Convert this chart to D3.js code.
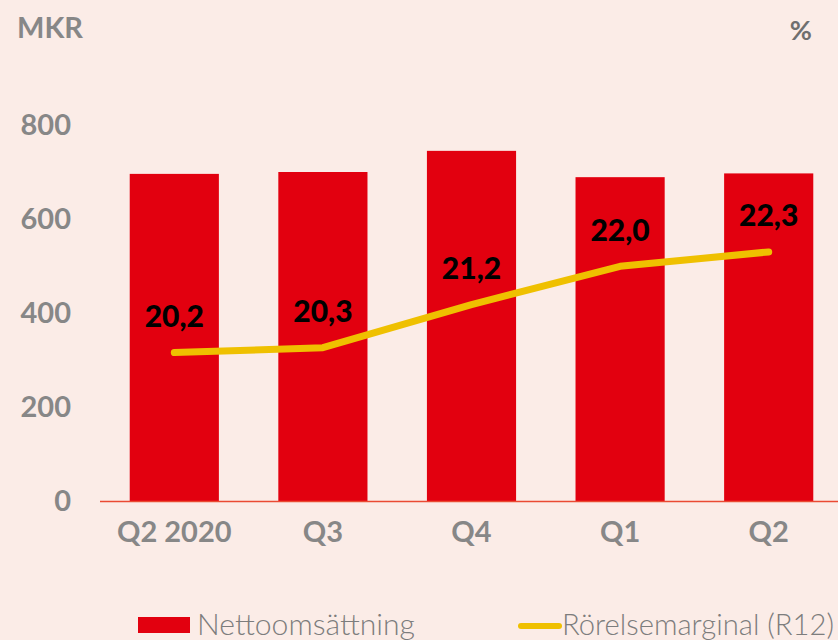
<!DOCTYPE html>
<html>
<head>
<meta charset="utf-8">
<script src="https://cdn.jsdelivr.net/npm/d3@7/dist/d3.min.js"></script>
<style>
	html, body { margin: 0; padding: 0; background: #fbece7; }
	svg { display: block; }
	.tick-lbl { font-family: Lato, sans-serif; font-weight: 700; fill: #878787; }
</style>
</head>
<body>
<svg id="chart" width="838" height="640"></svg>
<script>
	// Chart data
var quarters = ["Q2 2020", "Q3", "Q4", "Q1", "Q2"];
var netSales = [696, 700, 745, 689, 697];		// MKR
var margin   = [20.2, 20.3, 21.2, 22.0, 22.3];	// %, R12
var yTicks   = [0, 200, 400, 600, 800];

var W = 838, H = 640;
var base = 501, top_ = 125;

var svg = d3.select("#chart");

var x = d3.scaleBand().domain(quarters).range([100, 843])
	.paddingInner(0.4).paddingOuter(0.2);
var y = d3.scaleLinear().domain([0, 800]).range([base, top_]);
	// Right-hand % scale (no labels drawn, only the unit)
var y2 = d3.scaleLinear().domain([17.1, 24.95]).range([base, top_]);

	// Left axis labels
svg.append("g").selectAll("text")
	.data(yTicks)
	.enter()
	.append("text")
	.attr("class", "tick-lbl")
	.attr("x", 71)
	.attr("y", function(d) { return y(d); })
	.attr("dy", "0.35em")
	.attr("text-anchor", "end")
	.style("font-size", "29px")
	.text(function(d) { return d; });

svg.append("text").attr("class", "tick-lbl")
	.attr("x", 17).attr("y", 38).style("font-size", "29px").text("MKR");
svg.append("text").attr("class", "tick-lbl")
	.attr("x", 812).attr("y", 40).attr("text-anchor", "end")
	.style("font-size", "27px").style("fill", "#6f6f6f").text("%");

	// Bars
svg.append("g").selectAll("rect")
	.data(quarters)
	.enter()
	.append("rect")
	.attr("x", function(d) { return x(d); })
	.attr("width", x.bandwidth())
	.attr("y", function(d, i) { return y(netSales[i]); })
	.attr("height", function(d, i) { return base - y(netSales[i]); })
	.attr("fill", "#e2000f");

	// Baseline
svg.append("line")
	.attr("x1", 100).attr("x2", W)
	.attr("y1", base + 0.5).attr("y2", base + 0.5)
	.attr("stroke", "#ea4a33").attr("stroke-width", 1.5);

	// X axis labels
svg.append("g").selectAll("text")
	.data(quarters)
	.enter()
	.append("text")
	.attr("class", "tick-lbl")
	.attr("x", function(d) { return x(d) + x.bandwidth()/2; })
	.attr("y", 532)
	.attr("dy", "0.35em")
	.attr("text-anchor", "middle")
	.style("font-size", "29px")
	.text(function(d) { return d; });

	// Margin line
var line = d3.line()
	.x(function(d, i) { return x(quarters[i]) + x.bandwidth()/2; })
	.y(function(d) { return y2(d); });

svg.append("path")
	.datum(margin)
	.attr("d", line)
	.attr("fill", "none")
	.attr("stroke", "#efc000")
	.attr("stroke-width", 7)
	.attr("stroke-linecap", "round")
	.attr("stroke-linejoin", "round");

	// Value labels
svg.append("g").selectAll("text")
	.data(margin)
	.enter()
	.append("text")
	.attr("x", function(d, i) { return x(quarters[i]) + x.bandwidth()/2; })
	.attr("y", function(d) { return y2(d) - 36; })
	.attr("dy", "0.35em")
	.attr("text-anchor", "middle")
	.style("font-family", "Lato, sans-serif")
	.style("font-weight", 900)
	.style("font-size", "30px")
	.attr("fill", "#000")
	.text(function(d) { return d.toFixed(1).replace(".", ","); });

	// Legend
var lg = svg.append("g");
lg.append("rect").attr("x", 138).attr("y", 617).attr("width", 52).attr("height", 16).attr("fill", "#e2000f");
lg.append("text").attr("x", 197).attr("y", 635)
	.attr("textLength", 218).attr("lengthAdjust", "spacingAndGlyphs")
	.style("font-family", "Lato, sans-serif").style("font-weight", 300).style("font-size", "29px")
	.attr("fill", "#7d7d7d").text("Nettoomsättning");
lg.append("line").attr("x1", 521).attr("x2", 559).attr("y1", 626).attr("y2", 626)
	.attr("stroke", "#efc000").attr("stroke-width", 6).attr("stroke-linecap", "round");
lg.append("text").attr("x", 562).attr("y", 635)
	.attr("textLength", 272).attr("lengthAdjust", "spacingAndGlyphs")
	.style("font-family", "Lato, sans-serif").style("font-weight", 300).style("font-size", "29px")
	.attr("fill", "#7d7d7d").text("Rörelsemarginal (R12)");
</script>
</body>
</html>
